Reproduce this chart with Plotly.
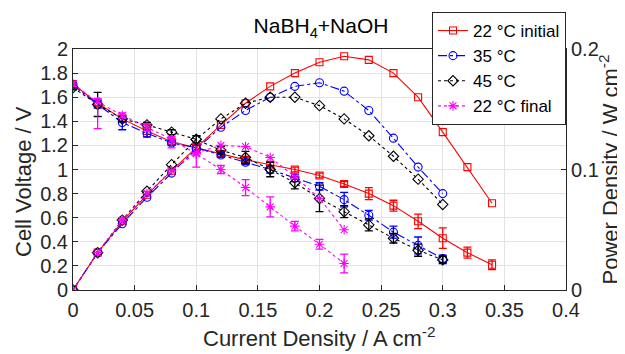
import plotly.graph_objects as go

# ---- data ----
current = [0, 0.02, 0.04, 0.06, 0.08, 0.10, 0.12, 0.14, 0.16, 0.18, 0.20, 0.22,
           0.24, 0.26, 0.28, 0.30, 0.32, 0.34]

v22i = [1.71, 1.55, 1.42, 1.32, 1.23, 1.18, 1.13, 1.08, 1.04, 1.00, 0.95, 0.88,
        0.80, 0.70, 0.57, 0.43, 0.31, 0.21]
e22i = [0.02, 0.02, 0.03, 0.05, 0.02, 0.02, 0.02, 0.02, 0.02, 0.02, 0.02, 0.02,
        0.05, 0.045, 0.06, 0.085, 0.045, 0.04]
p22i = [0, 0.031, 0.057, 0.079, 0.099, 0.118, 0.137, 0.155, 0.169, 0.180, 0.189, 0.194,
        0.191, 0.180, 0.160, 0.131, 0.102, 0.072]

v35 = [1.70, 1.54, 1.39, 1.30, 1.22, 1.18, 1.12, 1.06, 1.00, 0.93, 0.86, 0.75,
       0.62, 0.48, 0.37, 0.26]
e35 = [0.02, 0.03, 0.06, 0.03, 0.02, 0.02, 0.02, 0.02, 0.03, 0.03, 0.03, 0.06,
       0.04, 0.05, 0.07, 0.03]
p35 = [0, 0.031, 0.055, 0.077, 0.097, 0.117, 0.135, 0.149, 0.160, 0.169, 0.172, 0.165,
       0.149, 0.126, 0.102, 0.080]

v45 = [1.68, 1.54, 1.42, 1.37, 1.31, 1.25, 1.16, 1.10, 1.00, 0.89, 0.76, 0.65,
       0.54, 0.43, 0.33, 0.25]
e45 = [0.02, 0.10, 0.02, 0.02, 0.02, 0.03, 0.03, 0.05, 0.06, 0.05, 0.11, 0.05,
       0.05, 0.04, 0.05, 0.03]
p45 = [0, 0.031, 0.058, 0.082, 0.104, 0.125, 0.142, 0.155, 0.160, 0.160, 0.153, 0.142,
       0.128, 0.111, 0.092, 0.071]

v22f = [1.71, 1.56, 1.45, 1.35, 1.25, 1.13, 1.00, 0.85, 0.69, 0.53, 0.38, 0.22]
e22f_plus = [0.02, 0.03, 0.02, 0.03, 0.02, 0.08, 0.035, 0.066, 0.083, 0.04, 0.04, 0.078]
e22f_minus = [0.02, 0.22, 0.02, 0.03, 0.07, 0.11, 0.035, 0.066, 0.083, 0.04, 0.04, 0.078]
p22f = [0, 0.031, 0.058, 0.080, 0.099, 0.114, 0.120, 0.119, 0.110, 0.094, 0.076, 0.050]

x_ticks = [0, 0.05, 0.1, 0.15, 0.2, 0.25, 0.3, 0.35, 0.4]
x_ticktext = ["0", "0.05", "0.1", "0.15", "0.2", "0.25", "0.3", "0.35", "0.4"]
y_ticks = [0, 0.2, 0.4, 0.6, 0.8, 1, 1.2, 1.4, 1.6, 1.8, 2]
y_ticktext = ["0", "0.2", "0.4", "0.6", "0.8", "1", "1.2", "1.4", "1.6", "1.8", "2"]
y2_ticks = [0, 0.1, 0.2]
y2_ticktext = ["0", "0.1", "0.2"]

names = ["22 °C initial", "35 °C", "45 °C", "22 °C final"]
colors = ["#ff0000", "#0000ff", "#000000", "#ff00ff"]
dashes = ["solid", "dashdot", "dot", "dot"]
symbols = ["square-open", "circle-open", "diamond-open", "asterisk-open"]
msizes = [7, 8, 8, 8]

volt = [v22i, v35, v45, v22f]
power = [p22i, p35, p45, p22f]
err_plus = [e22i, e35, e45, e22f_plus]
err_minus = [e22i, e35, e45, e22f_minus]

FONT = "Liberation Sans, Arial, sans-serif"
AX = "#262626"

fig = go.Figure()
for i in range(4):
    n = len(volt[i])
    fig.add_trace(go.Scatter(
        x=current[:n], y=volt[i], mode="lines+markers", yaxis="y",
        line=dict(color=colors[i], dash=dashes[i], width=1.1),
        marker=dict(symbol=symbols[i], size=msizes[i], color=colors[i],
                    line=dict(color=colors[i], width=1.1)),
        error_y=dict(type="data", symmetric=False, array=err_plus[i],
                     arrayminus=err_minus[i], color=colors[i],
                     thickness=1.3, width=4),
        showlegend=False, name=names[i]))
for i in range(4):
    n = len(power[i])
    fig.add_trace(go.Scatter(
        x=current[:n], y=power[i], mode="lines+markers", yaxis="y2",
        line=dict(color=colors[i], dash=dashes[i], width=1.1),
        marker=dict(symbol=symbols[i], size=msizes[i], color=colors[i],
                    line=dict(color=colors[i], width=1.1)),
        showlegend=True, name=names[i]))

# page body has an 8px margin -> figure is drawn 8px in from the corner
W, H = 617, 346
L, R, T, B = 65, 59, 41, 64
PH = H - T - B

fig.update_layout(
    width=W, height=H,
    margin=dict(l=L, r=R, t=T, b=B, autoexpand=False),
    paper_bgcolor="white", plot_bgcolor="white",
    font=dict(family=FONT, size=20, color=AX),
    title=dict(text="NaBH<sub>4</sub>+NaOH", x=313 / W, xanchor="center",
               y=1 - 18 / H, yanchor="middle", font=dict(size=21, color="#000000")),
    xaxis=dict(range=[0, 0.4], tickvals=x_ticks, ticktext=x_ticktext,
               showgrid=True, gridcolor="#e3e3e3", gridwidth=1,
               showline=True, linecolor=AX, linewidth=1, mirror=True,
               ticks="inside", ticklen=5, tickcolor=AX, zeroline=False,
               ticklabelstandoff=2),
    yaxis=dict(range=[0, 2], tickvals=y_ticks, ticktext=y_ticktext,
               showgrid=True, gridcolor="#e3e3e3", gridwidth=1,
               showline=True, linecolor=AX, linewidth=1,
               ticks="inside", ticklen=5, tickcolor=AX, zeroline=False),
    yaxis2=dict(range=[0, 0.2], overlaying="y", side="right",
                tickvals=y2_ticks, ticktext=y2_ticktext,
                showgrid=False, showline=True, linecolor=AX, linewidth=1,
                ticks="inside", ticklen=5, tickcolor=AX, zeroline=False),
    legend=dict(x=1.0, xanchor="right", y=(PH + T - 4) / PH, yanchor="top",
                bgcolor="white", bordercolor=AX, borderwidth=1,
                font=dict(size=17, color="#000000"), tracegroupgap=0,
                itemwidth=30),
    annotations=[
        dict(text="Current Density / A cm<sup>-2</sup>", xref="paper", yref="paper",
             x=0.5, y=(PH + T - 329) / PH, xanchor="center", yanchor="middle",
             showarrow=False, font=dict(size=22, color=AX)),
        dict(text="Cell Voltage / V", xref="paper", yref="paper", textangle=-90,
             x=0, xshift=15 - L, y=(PH + T - 174) / PH, xanchor="center",
             yanchor="middle", showarrow=False, font=dict(size=22, color=AX)),
        dict(text="Power Density / W cm<sup>-2</sup>", xref="paper", yref="paper",
             textangle=-90, x=1, xshift=600 - (W - R), y=0.5, xanchor="center",
             yanchor="middle", showarrow=False, font=dict(size=22, color=AX)),
    ],
)

fig.write_html("out.html")
